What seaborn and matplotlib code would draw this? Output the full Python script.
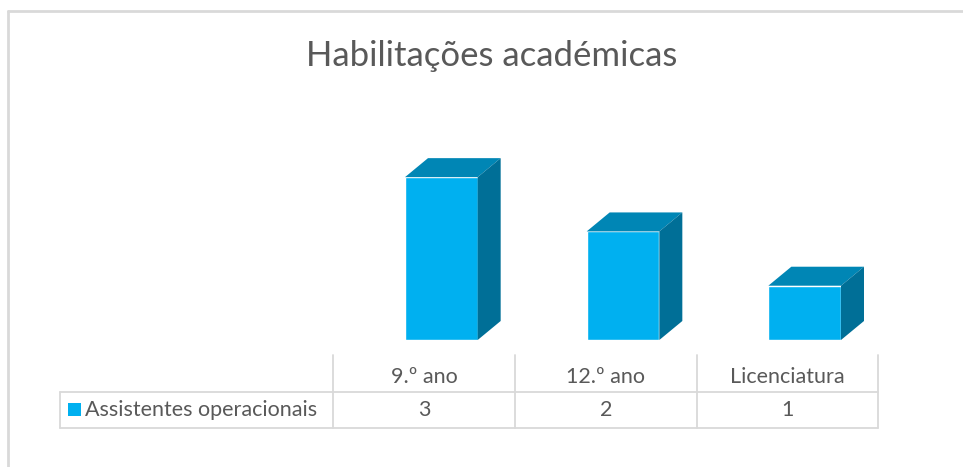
import matplotlib
matplotlib.use("Agg")
import matplotlib.pyplot as plt
from matplotlib.patches import Polygon, Rectangle
from matplotlib.lines import Line2D
import seaborn as sns
import pandas as pd

# data
categories = ["9.º ano", "12.º ano", "Licenciatura"]
values = [3, 2, 1]
series_name = "Assistentes operacionais"
title = "Habilitações académicas"

sns.set_style("white")
plt.rcParams['font.family'] = ['Lato', 'DejaVu Sans']

W, H = 963, 467
fig = plt.figure(figsize=(W / 100, H / 100), dpi=100)

def fx(px):
    return px / W

def fy(py):
    return 1 - py / H

front = "#00B0F0"
top_c = "#0086B5"
side_c = "#006F97"
grid_c = "#D9D9D9"
text_c = "#595959"

# chart frame (left and top edges only visible)
fig.add_artist(Line2D([fx(8), fx(8)], [fy(11), 0], color=grid_c, lw=2))
fig.add_artist(Line2D([fx(8), 1], [fy(11), fy(11)], color=grid_c, lw=2))

fig.text(fx(492), fy(56), title, ha="center", va="center", fontsize=25, color=text_c)

# plot area: bars
ax = fig.add_axes([fx(350.5), fy(340), fx(545), (340 - 150) / H])
df = pd.DataFrame({"cat": categories, "val": values})
sns.barplot(data=df, x="cat", y="val", color=front, width=0.4, saturation=1, ax=ax)
ax.set_xlim(-0.5, 2.5)
ax.set_ylim(0, 3.5)
ax.axis("off")

# 3D depth in data units from pixel offsets
dx = 23 / 545 * 3.0
dy = 19 / 190 * 3.5
for p in list(ax.patches):
    x0, w, h = p.get_x(), p.get_width(), p.get_height()
    ax.add_patch(Polygon([(x0, h), (x0 + w, h), (x0 + w + dx, h + dy), (x0 + dx, h + dy)],
                         closed=True, facecolor=top_c, edgecolor="none"))
    ax.add_patch(Polygon([(x0 + w, 0), (x0 + w + dx, dy), (x0 + w + dx, h + dy), (x0 + w, h)],
                         closed=True, facecolor=side_c, edgecolor="none"))

# data table
col_edges = [333, 515, 697, 878]
y_top, y_mid, y_bot = 355, 392, 428
row_left = 60
lw = 1.3
for xe in col_edges:
    fig.add_artist(Line2D([fx(xe), fx(xe)], [fy(y_top), fy(y_bot)], color=grid_c, lw=lw))
fig.add_artist(Line2D([fx(row_left), fx(col_edges[-1])], [fy(y_mid), fy(y_mid)], color=grid_c, lw=lw))
fig.add_artist(Line2D([fx(row_left), fx(col_edges[-1])], [fy(y_bot), fy(y_bot)], color=grid_c, lw=lw))
fig.add_artist(Line2D([fx(row_left), fx(row_left)], [fy(y_mid), fy(y_bot)], color=grid_c, lw=lw))

fs = 15.5
for i, (c, v) in enumerate(zip(categories, values)):
    cx = (col_edges[i] + col_edges[i + 1]) / 2
    fig.text(fx(cx), fy(377), c, ha="center", va="center", fontsize=fs, color=text_c)
    fig.text(fx(cx), fy(410), str(v), ha="center", va="center", fontsize=fs, color=text_c)

fig.add_artist(Rectangle((fx(68), fy(416)), fx(13), 13 / H, facecolor=front, edgecolor="none"))
fig.text(fx(85), fy(410), series_name, ha="left", va="center", fontsize=fs, color=text_c)

fig.savefig("out.png", dpi=100)
